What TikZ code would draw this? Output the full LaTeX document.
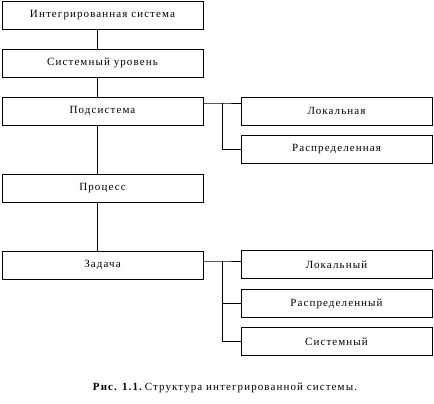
\documentclass[tikz,border=0pt]{standalone}
\usepackage{fontspec}
\setmainfont{Liberation Serif}
\newfontfamily\spacedfont[LetterSpace=10]{Liberation Serif}
\begin{document}
\begin{tikzpicture}[x=1pt,y=-1pt,
  box/.style={draw,line width=0.8pt,minimum height=28pt,inner sep=0pt,font=\spacedfont\fontsize{11}{13}\selectfont},
  lbox/.style={box,minimum width=201pt},
  rbox/.style={box,minimum width=191pt},
  conn/.style={line width=0.8pt}]
\useasboundingbox (0,0) rectangle (434,404);
\node[lbox] (a) at (102.5,15) {Интегрированная система};
\node[lbox] (b) at (102.5,63) {Системный уровень};
\node[lbox] (c) at (102.5,111) {Подсистема};
\node[lbox] (d) at (102.5,188) {Процесс};
\node[lbox] (e) at (102.5,265) {Задача};
\node[rbox] (r1) at (336.5,111) {Локальная};
\node[rbox] (r2) at (336.5,149.5) {Распределенная};
\node[rbox] (s1) at (336.5,264.5) {Локальный};
\node[rbox] (s2) at (336.5,303.5) {Распределенный};
\node[rbox] (s3) at (336.5,341.5) {Системный};
\draw[conn] (97,0 |- a.south) -- (97,0 |- b.north);
\draw[conn] (97,0 |- b.south) -- (97,0 |- c.north);
\draw[conn] (97,0 |- c.south) -- (97,0 |- d.north);
\draw[conn] (97,0 |- d.south) -- (97,0 |- e.north);
\coordinate (j1) at (222,103);
\draw[conn] (c.east |- j1) -- (j1) -- (r1.west |- j1);
\draw[conn] (j1) |- (r2.west);
\coordinate (j2) at (222,261);
\draw[conn] (e.east |- j2) -- (j2) -- (s1.west |- j2);
\draw[conn] (j2) |- (s2.west);
\draw[conn] (j2) |- (s3.west);
\node[font=\spacedfont\fontsize{11}{13}\selectfont] (cap) at (225,388) {\textbf{Рис. 1.1.}\,Структура интегрированной системы.};
\end{tikzpicture}
\end{document}
